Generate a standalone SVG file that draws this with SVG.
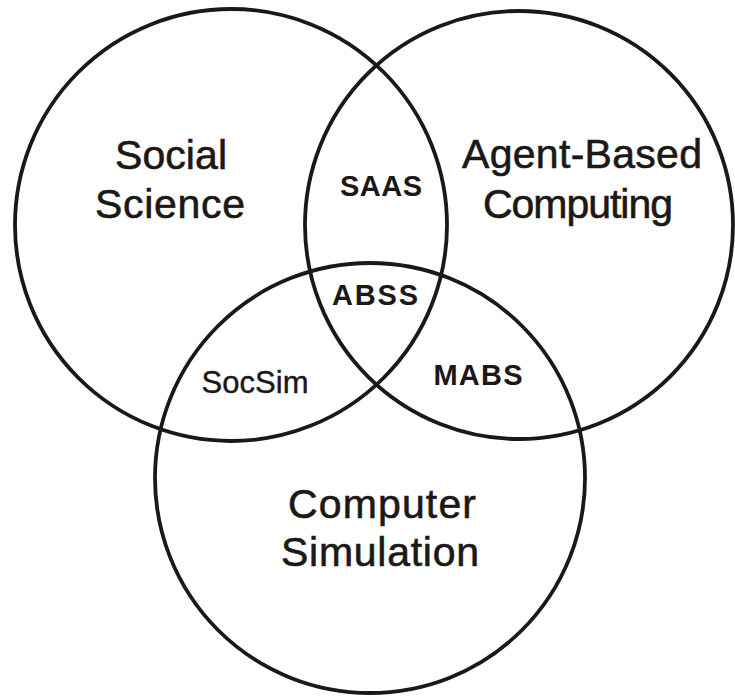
<svg xmlns="http://www.w3.org/2000/svg" width="735" height="696" viewBox="0 0 735 696">
  <style>
    .ring { fill: none; stroke: #1c1816; stroke-width: 3.8; }
    .big { font-family: "Liberation Sans", Arial, sans-serif; font-size: 41px; fill: #1c1816; stroke: #1c1816; stroke-width: 0.6; text-anchor: middle; }
    .tag { font-family: "Liberation Sans", Arial, sans-serif; font-size: 29px; font-weight: bold; fill: #1c1816; text-anchor: middle; }
    .tag-plain { font-family: "Liberation Sans", Arial, sans-serif; font-size: 31px; fill: #1c1816; stroke: #1c1816; stroke-width: 0.4; text-anchor: middle; }
  </style>
  <rect width="735" height="696" fill="#ffffff"/>

  <!-- three overlapping fields -->
  <g id="social-science">
    <circle class="ring" cx="231" cy="225" r="216"/>
    <text class="big" x="171" y="169" textLength="112">Social</text>
    <text class="big" x="170" y="218" textLength="150">Science</text>
  </g>
  <g id="agent-based-computing">
    <circle class="ring" cx="519" cy="225" r="214"/>
    <text class="big" x="582" y="168" textLength="240">Agent-Based</text>
    <text class="big" x="578" y="218" textLength="190">Computing</text>
  </g>
  <g id="computer-simulation">
    <circle class="ring" cx="370" cy="478" r="215"/>
    <text class="big" x="382" y="518" textLength="188">Computer</text>
    <text class="big" x="380" y="566" textLength="198">Simulation</text>
  </g>

  <!-- overlap regions -->
  <g id="saas">
    <text class="tag" x="381" y="196" textLength="82">SAAS</text>
  </g>
  <g id="abss">
    <text class="tag" x="375" y="305" textLength="86">ABSS</text>
  </g>
  <g id="socsim">
    <text class="tag-plain" x="255" y="393" textLength="107">SocSim</text>
  </g>
  <g id="mabs">
    <text class="tag" x="478" y="385" textLength="89">MABS</text>
  </g>

  <!-- no connectors in this figure -->
  <g id="connectors"/>
</svg>
